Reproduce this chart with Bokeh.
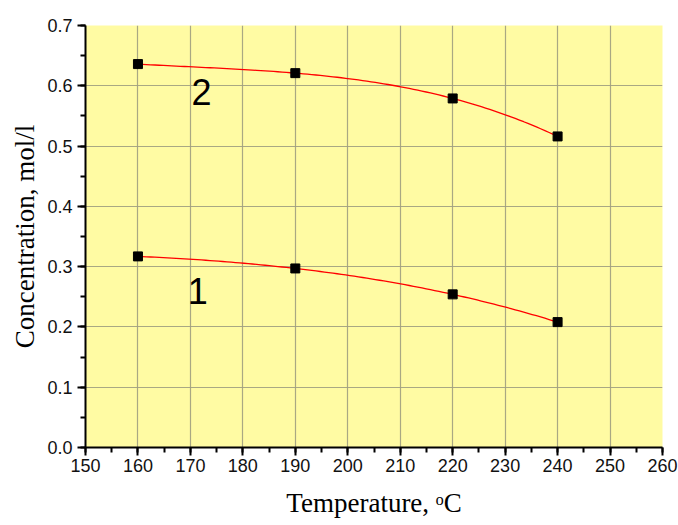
import numpy as np
from bokeh.plotting import figure
from bokeh.models import Range1d, FixedTicker, Label, CustomJSTickFormatter
from bokeh.embed import file_html
from bokeh.resources import INLINE

temperature = [160, 190, 220, 240]
series1 = [0.317, 0.297, 0.254, 0.208]
series2 = [0.636, 0.621, 0.579, 0.516]
x_ticks = [150, 160, 170, 180, 190, 200, 210, 220, 230, 240, 250, 260]
y_ticks = [0.0, 0.1, 0.2, 0.3, 0.4, 0.5, 0.6, 0.7]
x_minor = [150, 155, 160, 165, 170, 175, 180, 185, 190, 195, 200, 205, 210, 215,
           220, 225, 230, 235, 240, 245, 250, 255, 260]
y_minor = [0.0, 0.05, 0.1, 0.15, 0.2, 0.25, 0.3, 0.35, 0.4, 0.45, 0.5, 0.55, 0.6, 0.65, 0.7]

p = figure(width=678, height=525, output_backend="svg", toolbar_location=None,
           x_range=Range1d(150, 260), y_range=Range1d(0, 0.7),
           min_border_left=85, min_border_right=16, min_border_top=25, min_border_bottom=78)
p.outline_line_color = None
p.background_fill_color = "#FFFBA3"
p.border_fill_color = "white"

p.xaxis.ticker = FixedTicker(ticks=x_ticks, minor_ticks=x_minor)
p.yaxis.ticker = FixedTicker(ticks=y_ticks, minor_ticks=y_minor)
p.yaxis.formatter = CustomJSTickFormatter(code="return tick.toFixed(1);")

for ax in (p.xaxis, p.yaxis):
    ax.axis_line_width = 2
    ax.axis_line_color = "black"
    ax.major_tick_line_color = "black"
    ax.major_tick_line_width = 2
    ax.minor_tick_line_color = "black"
    ax.minor_tick_line_width = 2
    ax.major_tick_out = 8
    ax.major_tick_in = 0
    ax.minor_tick_out = 5
    ax.minor_tick_in = 0
    ax.major_label_text_font = "Liberation Sans"
    ax.major_label_text_font_size = "18px"
    ax.major_label_text_color = "#111111"
    ax.axis_label_text_font = "Liberation Serif"
    ax.axis_label_text_font_size = "27px"
    ax.axis_label_text_font_style = "normal"
    ax.axis_label_text_color = "black"

p.xaxis.axis_label = "Temperature, \u1d52C"
p.yaxis.axis_label = "Concentration, mol/l"
p.xaxis.axis_label_standoff = 13
p.yaxis.axis_label_standoff = 4
p.xaxis.major_label_standoff = 3
p.yaxis.major_label_standoff = 5

p.grid.grid_line_color = "#A09E80"
p.grid.grid_line_width = 1.2
p.grid.grid_line_alpha = 0.9

xs = np.linspace(min(temperature), max(temperature), 100)
for ser in (series1, series2):
    coef = np.polyfit(temperature, ser, 3)
    p.line(xs, np.polyval(coef, xs), line_color="red", line_width=1.3)
    p.scatter(temperature, ser, marker="square", size=9, fill_color="black", line_color="black")

for txt, tx, ty in (("2", 172.1, 0.589), ("1", 171.4, 0.260)):
    p.add_layout(Label(x=tx, y=ty, text=txt, text_font="Liberation Sans", text_font_size="36px",
                       text_align="center", text_baseline="middle", text_color="black"))

open("out.html", "w").write(file_html(p, INLINE))
